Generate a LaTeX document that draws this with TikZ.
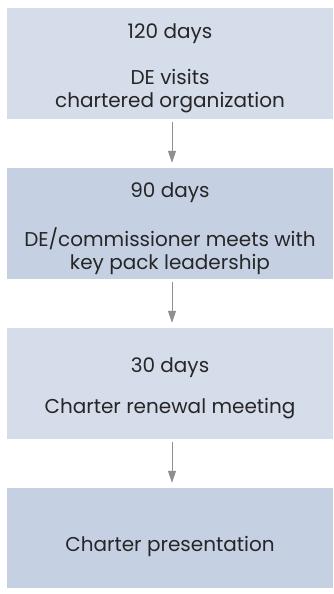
\documentclass[tikz,border=0pt]{standalone}
\usepackage{fontspec}
\setmainfont{Poppins}
\usetikzlibrary{arrows.meta}
\definecolor{boxlight}{HTML}{D5DDEA}
\definecolor{boxdark}{HTML}{C5D1E3}
\definecolor{arrowgray}{HTML}{8F8F8F}
\begin{document}
\begin{tikzpicture}[x=1pt,y=-1pt,
  stagebox/.style={rectangle, draw=none, minimum width=326pt, inner sep=0pt},
  stagetext/.style={inner sep=0pt, align=center,
    font=\fontsize{20}{23}\selectfont, text=black!85},
  flowarrow/.style={draw=arrowgray, line width=1pt, -{Triangle[length=12pt,width=8pt]}}]
\useasboundingbox (0,0) rectangle (333,594);
\node[stagebox, fill=boxlight, minimum height=111pt] (b1) at (170,63.5) {};
\node[stagebox, fill=boxdark, minimum height=111pt] (b2) at (170,223.5) {};
\node[stagebox, fill=boxlight, minimum height=111pt] (b3) at (170,383.5) {};
\node[stagebox, fill=boxdark, minimum height=100pt] (b4) at (170,538) {};
\node[stagetext] (t1) at ([yshift=-5pt]b1.center)
  {120 days\\[23pt] DE visits\\chartered organization};
\node[stagetext] (t2) at ([yshift=-5pt]b2.center)
  {90 days\\[24pt] DE/commissioner meets with\\key pack leadership};
\node[stagetext] (t3) at ([yshift=-4.5pt]b3.center)
  {30 days\\[18pt] Charter renewal meeting};
\node[stagetext] (t4) at ([yshift=-8pt]b4.center)
  {Charter presentation};
\draw[flowarrow] ([xshift=2pt,yshift=-3pt]b1.south) -- ([xshift=2pt,yshift=5pt]b2.north);
\draw[flowarrow] ([xshift=2pt,yshift=-3pt]b2.south) -- ([xshift=2pt,yshift=5pt]b3.north);
\draw[flowarrow] ([xshift=2pt,yshift=-3pt]b3.south) -- ([xshift=2pt,yshift=5pt]b4.north);
\end{tikzpicture}
\end{document}
